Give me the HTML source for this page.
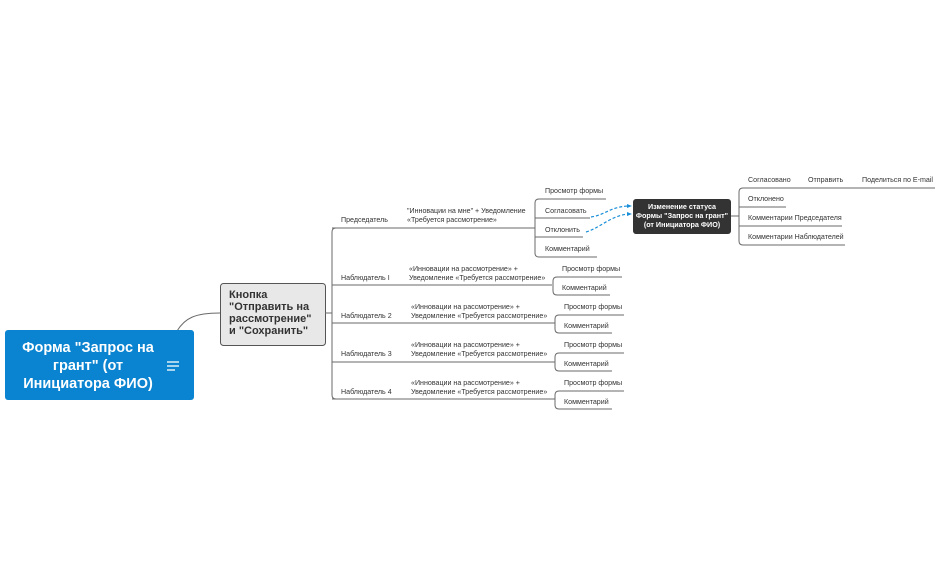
<!DOCTYPE html>
<html><head><meta charset="utf-8"><style>
html,body{margin:0;padding:0;background:#fff;}
svg{display:block;font-family:"Liberation Sans","DejaVu Sans",sans-serif;}
.s{font-size:7.1px;fill:#333;}
.l{fill:none;stroke:#6a6a6a;stroke-width:1;}
</style></head><body>
<svg width="941" height="583" viewBox="0 0 941 583">
<path class="l" d="M177 331 C185 318,195 313,220 313" stroke="#555"/>
<rect x="5" y="330" width="189" height="70" rx="3" fill="#0a84d0"/>
<g font-size="14.5" font-weight="bold" fill="#fff" text-anchor="middle">
<text x="88" y="352">Форма "Запрос на</text>
<text x="88" y="370">грант" (от</text>
<text x="88" y="388">Инициатора ФИО)</text>
</g>
<g stroke="#fff" stroke-width="1.3"><line x1="167" y1="362" x2="179" y2="362"/><line x1="167" y1="366" x2="179" y2="366"/><line x1="167" y1="370" x2="175" y2="370"/></g>

<rect x="220.5" y="283.5" width="105" height="62" rx="3" fill="#e8e8e8" stroke="#555"/>
<g font-size="11" font-weight="bold" fill="#333">
<text x="229" y="298">Кнопка</text>
<text x="229" y="310">"Отправить на</text>
<text x="229" y="322">рассмотрение"</text>
<text x="229" y="334">и "Сохранить"</text>
</g>
<line class="l" x1="325" y1="313" x2="332" y2="313"/>
<path class="l" d="M336 228 Q332 228 332 232 L332 395 Q332 399 336 399"/>
<line class="l" x1="332" y1="228" x2="535" y2="228"/>
<path class="l" d="M332 285 L552 285"/>
<path class="l" d="M332 323 L555 323"/>
<path class="l" d="M332 362 L555 362"/>
<path class="l" d="M332 399 L555 399"/>
<g class="s">
<text x="341" y="222">Председатель</text>
<text x="407" y="213">"Инновации на мне" + Уведомление</text>
<text x="407" y="222">«Требуется рассмотрение»</text>
<text x="341" y="280">Наблюдатель I</text>
<text x="409" y="271">«Инновации на рассмотрение» +</text>
<text x="409" y="280">Уведомление «Требуется рассмотрение»</text>
<text x="341" y="318">Наблюдатель 2</text>
<text x="411" y="309">«Инновации на рассмотрение» +</text>
<text x="411" y="318">Уведомление «Требуется рассмотрение»</text>
<text x="341" y="356">Наблюдатель 3</text>
<text x="411" y="347">«Инновации на рассмотрение» +</text>
<text x="411" y="356">Уведомление «Требуется рассмотрение»</text>
<text x="341" y="394">Наблюдатель 4</text>
<text x="411" y="385">«Инновации на рассмотрение» +</text>
<text x="411" y="394">Уведомление «Требуется рассмотрение»</text>
</g>
<path class="l" d="M606 199 L539 199 Q535 199 535 203 L535 253 Q535 257 539 257 L597 257"/>
<line class="l" x1="535" y1="218" x2="590" y2="218"/>
<line class="l" x1="535" y1="237" x2="583" y2="237"/>
<g class="s">
<text x="545" y="193">Просмотр формы</text>
<text x="545" y="213">Согласовать</text>
<text x="545" y="232">Отклонить</text>
<text x="545" y="251">Комментарий</text>
</g>
<g>
<path class="l" d="M622 277 L557 277 Q553 277 553 281 L553 291 Q553 295 557 295 L610 295"/>
<path class="l" d="M624 315 L559 315 Q555 315 555 319 L555 329 Q555 333 559 333 L612 333"/>
<path class="l" d="M624 353 L559 353 Q555 353 555 357 L555 367 Q555 371 559 371 L612 371"/>
<path class="l" d="M624 391 L559 391 Q555 391 555 395 L555 405 Q555 409 559 409 L612 409"/>
</g>
<g class="s">
<text x="562" y="271">Просмотр формы</text><text x="562" y="290">Комментарий</text>
<text x="564" y="309">Просмотр формы</text><text x="564" y="328">Комментарий</text>
<text x="564" y="347">Просмотр формы</text><text x="564" y="366">Комментарий</text>
<text x="564" y="385">Просмотр формы</text><text x="564" y="404">Комментарий</text>
</g>
<g fill="none" stroke="#1a8fd8" stroke-width="1.2" stroke-dasharray="3,2">
<path d="M591 217 C605 215,610 207,628 206"/>
<path d="M586 232 C600 228,610 216,628 214"/>
</g>
<path d="M632 206 L627 204 L627 208Z M632 214 L627 212 L627 216Z" fill="#1a8fd8"/>
<rect x="633" y="199" width="98" height="35" rx="3" fill="#333"/>
<g font-size="7.2" font-weight="bold" fill="#fff" text-anchor="middle">
<text x="682" y="209">Изменение статуса</text>
<text x="682" y="218">Формы "Запрос на грант"</text>
<text x="682" y="227">(от Инициатора ФИО)</text>
</g>
<line class="l" x1="731" y1="216" x2="739" y2="216"/>
<path class="l" d="M935 188 L743 188 Q739 188 739 192 L739 241 Q739 245 743 245 L845 245"/>
<line class="l" x1="739" y1="207" x2="786" y2="207"/>
<line class="l" x1="739" y1="226" x2="842" y2="226"/>
<g class="s">
<text x="748" y="182">Согласовано</text>
<text x="808" y="182">Отправить</text>
<text x="862" y="182">Поделиться по E-mail</text>
<text x="748" y="201">Отклонено</text>
<text x="748" y="220">Комментарии Председателя</text>
<text x="748" y="239">Комментарии Наблюдателей</text>
</g>
</svg>
</body></html>
